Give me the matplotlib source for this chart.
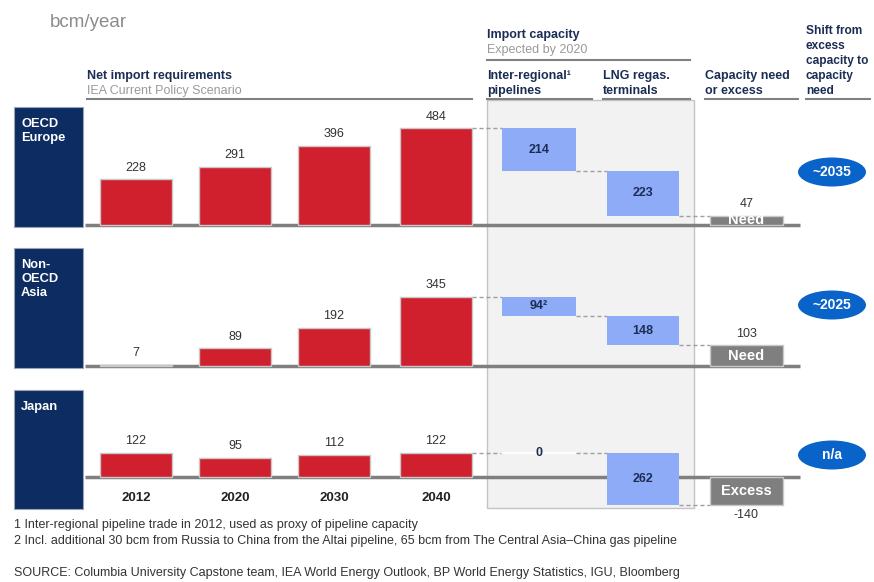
import matplotlib.pyplot as plt
from matplotlib.patches import Rectangle, Ellipse

plt.rcParams['font.family'] = ['Liberation Sans', 'DejaVu Sans']

years = ['2012', '2020', '2030', '2040']
regions = ['OECD\nEurope', 'Non-\nOECD\nAsia', 'Japan']
net_imports = {
    'OECD\nEurope': [228, 291, 396, 484],
    'Non-\nOECD\nAsia': [7, 89, 192, 345],
    'Japan': [122, 95, 112, 122],
}
pipelines = [214, 94, 0]
pipeline_labels = ['214', '94²', '0']
lng_terminals = [223, 148, 262]
shift_years = ['~2035', '~2025', 'n/a']

NAVY = '#0c2c62'
RED = '#d0202e'
LIGHT_BLUE = '#8eabf7'
GREY_BAR = '#7f7f7f'
OVAL = '#0a63c9'
HEAD = '#1c2d55'
SUB = '#9a9a9a'
TXT = '#333333'

# pixel layout
W, H = 874, 582
bar_x = [136, 235, 334, 436]
bar_w = 72
pipe_x, lng_x, need_x = 539, 643, 746.5
baselines = [225, 366, 477]
boxes = [(107, 227), (248, 368), (390, 509)]
oval_y = [172, 305, 455]

fig = plt.figure(figsize=(W / 100, H / 100), dpi=100)
bg = fig.add_axes([0, 0, 1, 1])
bg.set_xlim(0, W)
bg.set_ylim(H, 0)
bg.axis('off')

# shaded import-capacity panel
bg.add_patch(Rectangle((487, 100), 207, 408, facecolor='#f2f2f2',
                       edgecolor='#c4c4c4', lw=1, zorder=0))

# headers
bg.text(50, 27, 'bcm/year', fontsize=13.5, color='#8c8c8c', va='baseline')
bg.text(87, 79, 'Net import requirements', fontsize=9, fontweight='bold',
        color=HEAD, va='baseline')
bg.text(87, 94, 'IEA Current Policy Scenario', fontsize=9, color=SUB,
        va='baseline')
bg.text(487, 38, 'Import capacity', fontsize=9, fontweight='bold',
        color=HEAD, va='baseline')
bg.text(487, 53, 'Expected by 2020', fontsize=9, color=SUB, va='baseline')
bg.plot([487, 690], [60, 60], color='#808080', lw=1.5)

cols = [(487, 592, ['Inter-regional¹', 'pipelines'], 9),
        (603, 690, ['LNG regas.', 'terminals'], 9),
        (705, 798, ['Capacity need', 'or excess'], 9),
        (806, 870, ['Shift from', 'excess', 'capacity to', 'capacity', 'need'], 8.6)]
for x0, x1, lines, fs in cols:
    n = len(lines)
    for i, ln in enumerate(lines):
        bg.text(x0, 94 - (n - 1 - i) * 15, ln, fontsize=fs, fontweight='bold',
                color=HEAD, va='baseline')
    bg.plot([x0, x1], [99, 99], color='#808080', lw=1.5)
bg.plot([87, 472], [99, 99], color='#808080', lw=1.5)

# region boxes and shift ovals
for name, (y0, y1), oy, sh in zip(regions, boxes, oval_y, shift_years):
    bg.add_patch(Rectangle((14, y0), 69, y1 - y0, facecolor=NAVY,
                           edgecolor='#9aa4b8', lw=0.8))
    bg.text(21, y0 + 11, name, fontsize=9.3, fontweight='bold', color='white',
            va='top', linespacing=1.2)
    bg.add_patch(Ellipse((832, oy), 68, 29, facecolor=OVAL, edgecolor='none'))
    bg.text(832, oy, sh, fontsize=10, fontweight='bold', color='white',
            ha='center', va='center')

# footnotes
bg.text(14, 525, '1 Inter-regional pipeline trade in 2012, used as proxy of pipeline capacity',
        fontsize=9, color=TXT, va='center')
bg.text(14, 541, '2 Incl. additional 30 bcm from Russia to China from the Altai pipeline, '
        '65 bcm from The Central Asia\u2013China gas pipeline',
        fontsize=9, color=TXT, va='center')
bg.text(14, 573, 'SOURCE: Columbia University Capstone team, IEA World Energy Outlook, '
        'BP World Energy Statistics, IGU, Bloomberg',
        fontsize=9, color=TXT, va='center')

dash = dict(color='#a0a0a0', lw=1, ls=(0, (3, 2)), zorder=1)

for r, name in enumerate(regions):
    yb = baselines[r]
    ax = fig.add_axes([0, (H - (yb + 40)) / H, 1, 150 / H])
    ax.set_xlim(0, W)
    ax.set_ylim(-200, 550)
    ax.axis('off')
    ax.patch.set_alpha(0)

    ax.plot([85, 800], [0, 0], color='#7f7f7f', lw=2.5, zorder=2,
            solid_capstyle='butt')

    vals = net_imports[name]
    ax.bar(bar_x, vals, width=bar_w, color=RED, edgecolor='#c8c8c8', lw=1,
           zorder=3)
    for x, v in zip(bar_x, vals):
        ax.annotate(str(v), (x, v), xytext=(0, 4), textcoords='offset points',
                    ha='center', va='bottom', fontsize=9, color=TXT)

    top = vals[-1]
    pipe = pipelines[r]
    lng = lng_terminals[r]
    mid = top - pipe
    gap = mid - lng

    # waterfall: pipelines, LNG terminals, remaining need / excess
    ax.plot([472, 502], [top, top], **dash)
    if pipe > 0:
        ax.bar(pipe_x, -pipe, bottom=top, width=74, color=LIGHT_BLUE, zorder=3)
    else:
        ax.plot([502, 576], [top, top], color='white', lw=1.2, zorder=1)
    ax.text(pipe_x, top - pipe / 2, pipeline_labels[r], ha='center',
            va='center', fontsize=9, fontweight='bold', color=HEAD, zorder=4)
    ax.plot([576, 607], [mid, mid], **dash)
    ax.bar(lng_x, -lng, bottom=mid, width=72, color=LIGHT_BLUE, zorder=3)
    ax.text(lng_x, mid - lng / 2, str(lng), ha='center', va='center',
            fontsize=9, fontweight='bold', color=HEAD, zorder=4)
    ax.plot([679, 710], [gap, gap], **dash)
    need_bar = ax.bar(need_x, gap, width=73, color=GREY_BAR,
                      edgecolor='#c8c8c8', lw=1, zorder=3)[0]
    if gap > 0:
        ax.annotate(str(gap), (need_x, gap), xytext=(0, 4),
                    textcoords='offset points', ha='center', va='bottom',
                    fontsize=9, color=TXT)
        t = ax.text(need_x, gap / 2, 'Need', ha='center', va='center',
                    fontsize=10.5, fontweight='bold', color='white', zorder=4)
    else:
        ax.annotate(str(gap), (need_x, gap), xytext=(0, -3),
                    textcoords='offset points', ha='center', va='top',
                    fontsize=9, color=TXT)
        t = ax.text(need_x, gap / 2, 'Excess', ha='center', va='center',
                    fontsize=10.5, fontweight='bold', color='white', zorder=4)
    t.set_clip_path(need_bar)

    if r == len(regions) - 1:
        for x, yr in zip(bar_x, years):
            ax.text(x, -105, yr, ha='center', va='center', fontsize=9.5,
                    fontweight='bold', color='#222222')

fig.savefig('out.png', dpi=100)
